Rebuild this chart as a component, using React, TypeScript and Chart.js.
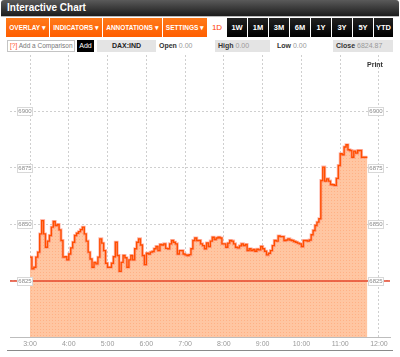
import React, { useEffect, useRef } from 'react';
import { Chart, registerables } from 'chart.js';
Chart.register(...registerables);

const PREV_CLOSE = 6824.87;
const Y_TICKS = [6825, 6850, 6875, 6900];
const X_TICKS = [3, 4, 5, 6, 7, 8, 9, 10, 11, 12];
const START_HOUR = 3;
const STEP_MIN = 3;
const VALUES = [
  6835.4, 6830.2, 6830.9, 6835.4, 6837.6, 6845.7, 6851.6, 6845.7, 6839.8, 6842.5,
  6845.0, 6848.7, 6851.2, 6849.4, 6849.9, 6847.5, 6842.8, 6835.4, 6835.6, 6834.2,
  6836.8, 6839.5, 6842.0, 6845.0, 6846.0, 6846.7, 6847.6, 6848.7, 6845.7, 6842.5,
  6837.6, 6834.6, 6830.9, 6833.1, 6832.4, 6835.4, 6843.5, 6841.6, 6838.3, 6832.7,
  6830.9, 6830.9, 6832.7, 6835.6, 6842.0, 6836.1, 6829.1, 6833.1, 6836.1, 6835.1,
  6830.9, 6834.2, 6836.1, 6834.2, 6839.1, 6842.0, 6843.5, 6840.8, 6836.1, 6832.1,
  6837.1, 6836.8, 6837.6, 6837.9, 6839.1, 6840.1, 6838.3, 6841.0, 6840.8, 6841.3,
  6839.3, 6839.1, 6841.3, 6842.8, 6842.0, 6841.3, 6836.8, 6838.3, 6838.3, 6836.8,
  6836.4, 6836.1, 6836.5, 6839.1, 6842.8, 6843.9, 6842.8, 6842.8, 6841.3, 6840.5,
  6839.1, 6841.7, 6840.1, 6842.5, 6844.2, 6843.2, 6843.9, 6844.2, 6843.9, 6841.3,
  6841.3, 6839.8, 6841.6, 6842.8, 6842.5, 6841.3, 6839.8, 6839.5, 6840.4, 6841.3,
  6840.5, 6841.0, 6838.3, 6839.1, 6838.3, 6838.8, 6838.0, 6838.9, 6838.6, 6840.1,
  6839.1, 6838.0, 6836.4, 6837.1, 6838.3, 6840.5, 6842.8, 6842.5, 6844.8, 6844.5,
  6844.5, 6842.8, 6843.0, 6843.5, 6843.0, 6842.8, 6842.3, 6842.0, 6841.6, 6841.3,
  6840.1, 6842.8, 6842.8, 6842.5, 6843.0, 6845.3, 6847.2, 6849.4, 6850.9, 6852.4,
  6869.4, 6875.3, 6869.1, 6870.1, 6869.1, 6867.6, 6867.5, 6867.2, 6870.3, 6876.0,
  6881.2, 6880.8, 6884.2, 6885.2, 6883.0, 6882.7, 6879.7, 6882.4, 6881.5, 6882.7,
  6882.7, 6879.7, 6879.7, 6879.7, 6879.7,
];
const MENUS = ['OVERLAY', 'INDICATORS', 'ANNOTATIONS', 'SETTINGS'];
const PERIODS = ['1W', '1M', '3M', '6M', '1Y', '3Y', '5Y', 'YTD'];
const SYMBOL = 'DAX:IND';
const OPEN = '0.00';
const HIGH = '0.00';
const LOW = '0.00';
const CLOSE = '6824.87';

const FONT = '"Liberation Sans", Arial, sans-serif';

const overlayPlugin = {
  id: 'overlay',
  afterDatasetsDraw(chart: any) {
    const { ctx, chartArea, scales } = chart;
    const y = scales.y;
    const yp = y.getPixelForValue(PREV_CLOSE);
    ctx.save();
    ctx.strokeStyle = '#e4472c';
    ctx.lineWidth = 1.5;
    ctx.beginPath();
    ctx.moveTo(chartArea.left, yp);
    ctx.lineTo(chartArea.right, yp);
    ctx.stroke();
    ctx.font = '6px ' + FONT;
    ctx.textAlign = 'center';
    ctx.textBaseline = 'middle';
    for (const v of Y_TICKS) {
      const py = Math.round(y.getPixelForValue(v));
      for (const bx of [chartArea.left + 7, chartArea.right - 22]) {
        ctx.fillStyle = '#fff';
        ctx.fillRect(bx, py - 4, 15, 8);
        ctx.strokeStyle = '#d8d8d8';
        ctx.lineWidth = 1;
        ctx.strokeRect(bx + 0.5, py - 3.5, 15, 8);
        ctx.fillStyle = '#8a8a8a';
        ctx.fillText(String(v), bx + 8, py + 0.5);
      }
    }
    ctx.restore();
  },
};

function makePattern(): CanvasPattern | string {
  const c = document.createElement('canvas');
  c.width = 3;
  c.height = 3;
  const g = c.getContext('2d');
  if (!g) return 'rgba(255,190,150,0.9)';
  g.fillStyle = 'rgba(255,194,155,0.93)';
  g.fillRect(0, 0, 3, 3);
  g.fillStyle = 'rgba(255,176,132,0.95)';
  g.fillRect(1, 1, 1, 1);
  const p = g.createPattern(c, 'repeat');
  return p || 'rgba(255,190,150,0.9)';
}

function PriceChart() {
  const ref = useRef<HTMLCanvasElement | null>(null);
  useEffect(() => {
    if (!ref.current) return;
    const points = VALUES.map((v, i) => ({ x: START_HOUR + (i * STEP_MIN) / 60, y: v }));
    const chart = new Chart(ref.current, {
      type: 'line',
      data: {
        datasets: [
          {
            data: points,
            borderColor: '#ff4e00',
            borderWidth: 1.4,
            pointRadius: 0,
            stepped: true,
            fill: false,
            order: 0,
          },
          {
            data: points,
            borderColor: 'rgba(255,130,110,0.55)',
            borderWidth: 3,
            pointRadius: 0,
            stepped: true,
            fill: 'start',
            backgroundColor: makePattern() as any,
            order: 1,
          },
        ],
      },
      options: {
        animation: false,
        responsive: false,
        maintainAspectRatio: false,
        layout: { padding: { left: 10, right: 10, top: 0, bottom: 0 } },
        plugins: { legend: { display: false }, tooltip: { enabled: false } },
        scales: {
          x: {
            type: 'linear',
            min: 2.484,
            max: 12.284,
            afterBuildTicks: (s: any) => {
              s.ticks = X_TICKS.map((v) => ({ value: v }));
            },
            afterFit: (s: any) => {
              s.height = 20;
            },
            ticks: {
              callback: (v: any) => `${v}:00`,
              font: { size: 7, family: FONT },
              color: '#999',
              padding: 3,
              maxRotation: 0,
              autoSkip: false,
            },
            grid: { color: '#cfcfcf', drawTicks: false },
            border: { display: true, color: '#bdbdbd', width: 1, dash: [2, 2] },
          },
          y: {
            min: 6800,
            max: 6925,
            afterBuildTicks: (s: any) => {
              s.ticks = Y_TICKS.map((v) => ({ value: v }));
            },
            afterFit: (s: any) => {
              s.width = 0;
            },
            ticks: { display: false },
            grid: { color: '#cfcfcf', drawTicks: false },
            border: { display: false, dash: [2, 2] },
          },
        },
      },
      plugins: [overlayPlugin],
    });
    return () => chart.destroy();
  }, []);
  return (
    <canvas
      ref={ref}
      width={400}
      height={302}
      style={{ position: 'absolute', left: 0, top: 55, width: 400, height: 302 }}
    />
  );
}

export default function App() {
  const menuX = [6, 50, 103, 163];
  const menuW = [43, 52, 59, 44];
  const perX = [227, 248, 269, 290, 311, 332, 353, 374];
  const perW = [20, 20, 20, 20, 20, 20, 20, 19];
  return (
    <div
      style={{
        position: 'fixed',
        left: 0,
        top: 0,
        width: 400,
        height: 357,
        background: '#fff',
        overflow: 'hidden',
        fontFamily: FONT,
      }}
    >
      <div
        style={{
          position: 'absolute',
          left: 1,
          top: 0,
          width: 398,
          height: 16,
          background: 'linear-gradient(#5a5a5a, #1c1c1c)',
          borderRadius: '3px 3px 0 0',
          color: '#fff',
          fontWeight: 'bold',
          fontSize: 10,
          lineHeight: '16px',
          paddingLeft: 6,
          boxSizing: 'border-box',
        }}
      >
        Interactive Chart
      </div>
      <div style={{ position: 'absolute', left: 1, top: 16, width: 398, height: 1, background: '#bbb' }} />
      {MENUS.map((m, i) => (
        <div
          key={m}
          style={{
            position: 'absolute',
            left: menuX[i],
            top: 18,
            width: menuW[i],
            height: 19,
            background: 'linear-gradient(#ff7a1a, #ff5e00)',
            color: '#fff',
            fontWeight: 'bold',
            fontSize: 6.5,
            lineHeight: '19px',
            textAlign: 'center',
            whiteSpace: 'nowrap',
            overflow: 'hidden',
          }}
        >
          {m} ▾
        </div>
      ))}
      <div
        style={{
          position: 'absolute',
          left: 208,
          top: 18,
          width: 18,
          height: 19,
          background: '#fff',
          color: '#ff3a00',
          fontSize: 8,
          lineHeight: '19px',
          textAlign: 'center',
        }}
      >
        1D
      </div>
      {PERIODS.map((p, i) => (
        <div
          key={p}
          style={{
            position: 'absolute',
            left: perX[i],
            top: 18,
            width: perW[i],
            height: 19,
            background: 'linear-gradient(#222, #000)',
            color: '#fff',
            fontWeight: 'bold',
            fontSize: 7.5,
            lineHeight: '19px',
            textAlign: 'center',
          }}
        >
          {p}
        </div>
      ))}
      <div
        style={{
          position: 'absolute',
          left: 7,
          top: 40,
          width: 68,
          height: 12,
          border: '1px solid #c4c4c4',
          boxSizing: 'border-box',
          fontSize: 6.5,
          lineHeight: '10px',
          color: '#777',
          paddingLeft: 2,
          whiteSpace: 'nowrap',
          overflow: 'hidden',
        }}
      >
        <span style={{ color: '#ff4a1a' }}>[?]</span> Add a Comparison
      </div>
      <div
        style={{
          position: 'absolute',
          left: 77,
          top: 40,
          width: 17,
          height: 12,
          background: '#000',
          color: '#fff',
          fontSize: 7,
          lineHeight: '12px',
          textAlign: 'center',
        }}
      >
        Add
      </div>
      <div
        style={{
          position: 'absolute',
          left: 97,
          top: 40,
          width: 59,
          height: 12,
          background: '#e4e4e4',
          color: '#222',
          fontWeight: 'bold',
          fontSize: 7,
          lineHeight: '12px',
          textAlign: 'center',
        }}
      >
        {SYMBOL}
      </div>
      <div style={{ position: 'absolute', left: 159, top: 40, fontSize: 7, lineHeight: '12px', color: '#999', whiteSpace: 'nowrap' }}>
        <b style={{ color: '#333' }}>Open</b> {OPEN}
      </div>
      <div
        style={{
          position: 'absolute',
          left: 215,
          top: 40,
          width: 55,
          height: 12,
          background: '#e4e4e4',
          fontSize: 7,
          lineHeight: '12px',
          color: '#999',
          paddingLeft: 3,
          boxSizing: 'border-box',
          whiteSpace: 'nowrap',
        }}
      >
        <b style={{ color: '#333' }}>High</b> {HIGH}
      </div>
      <div style={{ position: 'absolute', left: 277, top: 40, fontSize: 7, lineHeight: '12px', color: '#999', whiteSpace: 'nowrap' }}>
        <b style={{ color: '#333' }}>Low</b> {LOW}
      </div>
      <div
        style={{
          position: 'absolute',
          left: 333,
          top: 40,
          width: 60,
          height: 12,
          background: '#e4e4e4',
          fontSize: 7,
          lineHeight: '12px',
          color: '#999',
          paddingLeft: 3,
          boxSizing: 'border-box',
          whiteSpace: 'nowrap',
        }}
      >
        <b style={{ color: '#333' }}>Close</b> {CLOSE}
      </div>
      <PriceChart />
      <div
        style={{
          position: 'absolute',
          left: 367,
          top: 61,
          fontSize: 7,
          fontWeight: 'bold',
          color: '#333',
        }}
      >
        Print
      </div>
      <div style={{ position: 'absolute', left: 7, top: 350, width: 386, height: 1, background: '#8a8a8a' }} />
    </div>
  );
}
